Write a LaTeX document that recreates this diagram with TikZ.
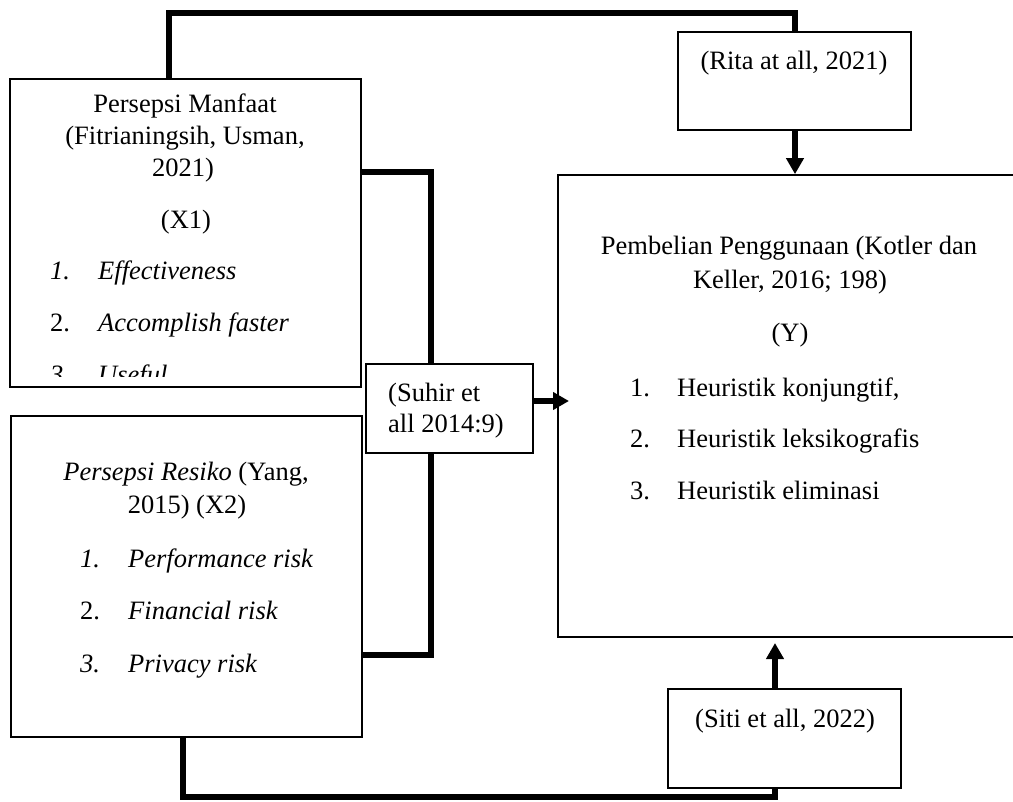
\documentclass[tikz,border=0pt]{standalone}
\usepackage{fontspec}
\setmainfont{Liberation Serif}
\usetikzlibrary{arrows.meta}
\begin{document}
\begin{tikzpicture}[x=1pt,y=-1pt,
  box/.style={draw, line width=2pt, rectangle, inner sep=0pt},
  conn/.style={line width=5.5pt, line join=miter},
  arr/.style={line width=5.5pt, -{Triangle[width=17pt,length=16pt]}},
  txt/.style={anchor=base, inner sep=0pt, font=\fontsize{26.5}{32}\selectfont},
  ltxt/.style={txt, anchor=base west},
]
\useasboundingbox (0,0) rectangle (1013,802);
\fill[white] (0,0) rectangle (1013,802);
\clip (0,0) rectangle (1013,802);

% boxes
\node[box, minimum width=351pt, minimum height=308pt] (x1) at (185.5,233) {};
\node[box, line width=1.7pt, minimum width=351pt, minimum height=321pt] (x2) at (186.5,576.5) {};
\node[box, minimum width=167pt, minimum height=89pt] (suhir) at (449.5,408.5) {};
\node[box, minimum width=233pt, minimum height=98pt] (rita) at (794.5,81) {};
\node[box, minimum width=233pt, minimum height=99pt] (siti) at (784.5,738.5) {};
\node[box, line width=1.7pt, minimum width=472pt, minimum height=462pt] (main) at (794,406) {};

% junction coordinates
\coordinate (tl) at (169,13);
\coordinate (tr) at (795,13);
\coordinate (j1) at (431,172);
\coordinate (j2) at (431,655);
\coordinate (sa) at (569,401);
\coordinate (bl) at (183,797);
\coordinate (br) at (775,797);
\coordinate (sta) at (775,643);

% connectors
\draw[conn] (x1.north -| tl) |- (tr) -- (rita.north -| tr);
\draw[arr] (rita.south -| tr) -- (main.north -| tr);
\draw[conn] (x1.east |- j1) -| (suhir.north -| j1);
\draw[conn] (x2.east |- j2) -| (suhir.south -| j2);
\draw[arr] (suhir.east |- sa) -- (sa);
\draw[conn] (x2.south -| bl) |- (br) -- (siti.south -| br);
\draw[arr] (siti.north -| br) -- (sta);

% X1 text
\begin{scope}
\clip (10,79) rectangle (361,377);
\node[txt] (x1a) at (185,113) {Persepsi Manfaat};
\node[txt] (x1b) at (185,145) {(Fitrianingsih, Usman,};
\node[txt] (x1c) at (183,177) {2021)};
\node[txt] (x1d) at (186,229) {(X1)};
\node[ltxt] (x1n1) at (50,280) {\itshape 1.};
\node[ltxt] (x1i1) at (98,280) {\itshape Effectiveness};
\node[ltxt] (x1n2) at (50,332) {2.};
\node[ltxt] (x1i2) at (98,332) {\itshape Accomplish faster};
\node[ltxt] (x1n3) at (50,384) {\itshape 3.};
\node[ltxt] (x1i3) at (98,384) {\itshape Useful};
\end{scope}

% X2 text
\node[txt] (x2a) at (186,480) {\textit{Persepsi Resiko} (Yang,};
\node[txt] (x2b) at (187,513) {2015) (X2)};
\node[ltxt] (x2n1) at (80,567) {\itshape 1.};
\node[ltxt] (x2i1) at (128,567) {\itshape Performance risk};
\node[ltxt] (x2n2) at (80,619) {2.};
\node[ltxt] (x2i2) at (128,619) {\itshape Financial risk};
\node[ltxt] (x2n3) at (80,672) {\itshape 3.};
\node[ltxt] (x2i3) at (128,672) {\itshape Privacy risk};

% Y text
\node[txt] (ya) at (789,255) {Pembelian Penggunaan (Kotler dan};
\node[txt] (yb) at (790,289) {Keller, 2016; 198)};
\node[txt] (yc) at (790,342) {(Y)};
\node[ltxt] (yn1) at (630,397) {1.};
\node[ltxt] (yi1) at (677,397) {Heuristik konjungtif,};
\node[ltxt] (yn2) at (630,448) {2.};
\node[ltxt] (yi2) at (677,448) {Heuristik leksikografis};
\node[ltxt] (yn3) at (630,500) {3.};
\node[ltxt] (yi3) at (677,500) {Heuristik eliminasi};

% small boxes text
\node[ltxt] (sa1) at (388,402) {(Suhir et};
\node[ltxt] (sa2) at (388,432) {all 2014:9)};
\node[txt] (rt) at (794,70) {(Rita at all, 2021)};
\node[txt] (st) at (785,727) {(Siti et all, 2022)};
\end{tikzpicture}
\end{document}
